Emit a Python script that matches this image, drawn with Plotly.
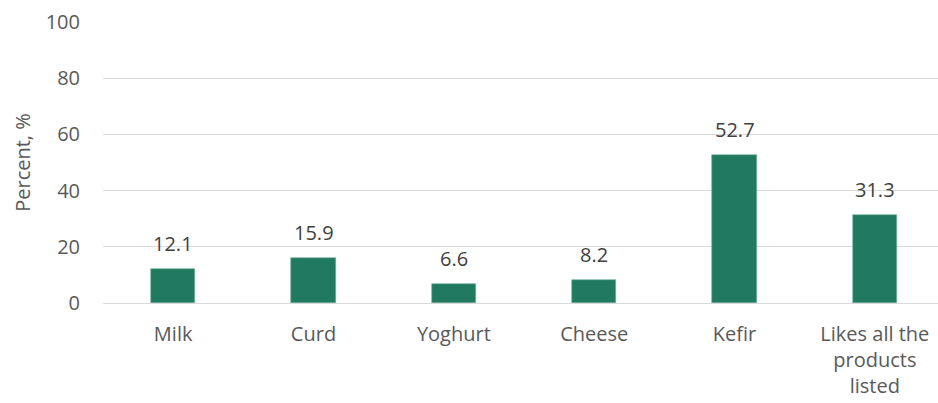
import plotly.graph_objects as go

categories = ["Milk", "Curd", "Yoghurt", "Cheese", "Kefir", "Likes all the<br>products<br>listed"]
percent = [12.1, 15.9, 6.6, 8.2, 52.7, 31.3]
y_ticks = [0, 20, 40, 60, 80, 100]

text_color = "#595959"
label_color = "#404040"
font_family = "Open Sans, Calibri, Arial, sans-serif"
font_size = 20

fig = go.Figure(
    go.Bar(
        x=categories,
        y=percent,
        width=0.314,
        marker=dict(color="#217a5f", line=dict(color="#6fb39c", width=0.6)),
    )
)

# value labels above each bar
for cat, val in zip(categories, percent):
    fig.add_annotation(
        x=cat,
        y=val,
        text=f"{val:.1f}",
        showarrow=False,
        yanchor="bottom",
        yshift=10,
        font=dict(size=font_size, color=label_color, family=font_family),
    )

fig.update_layout(
    width=938,
    height=403,
    margin=dict(l=103, r=0, t=22, b=100),
    paper_bgcolor="white",
    plot_bgcolor="white",
    showlegend=False,
    font=dict(family=font_family, size=font_size, color=text_color),
    bargap=0,
)

fig.update_xaxes(
    range=[-0.5, 5.45],
    showgrid=False,
    showline=False,
    ticks="",
    ticklabelstandoff=17,
    tickfont=dict(size=font_size, color=text_color),
)

fig.update_yaxes(
    range=[0, 100],
    tickvals=y_ticks,
    showgrid=True,
    gridcolor="#d9d9d9",
    gridwidth=1.3,
    zeroline=True,
    zerolinecolor="#d9d9d9",
    zerolinewidth=1.3,
    showline=False,
    ticks="",
    ticklabelstandoff=22,
    tickfont=dict(size=font_size, color=text_color),
    title=dict(text="Percent, %", font=dict(size=font_size, color=text_color), standoff=9),
)

fig.write_html("out.html")
